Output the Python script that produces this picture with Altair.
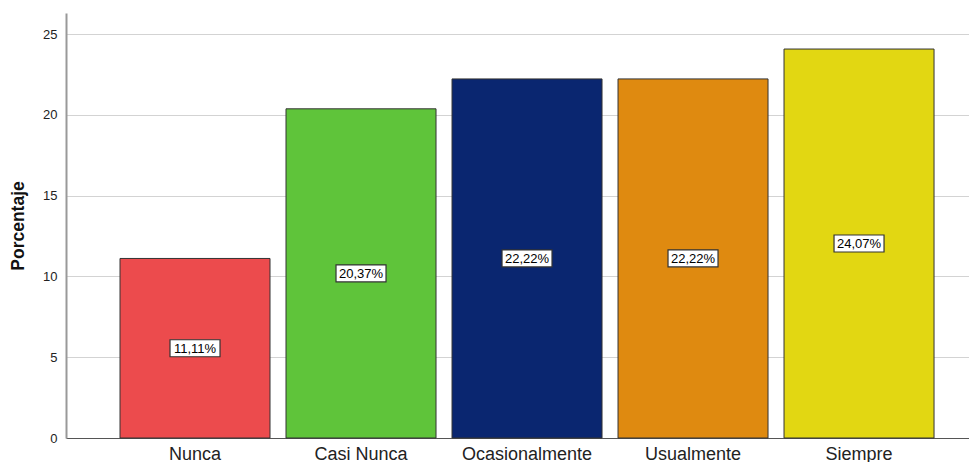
import altair as alt
import pandas as pd

categories = ["Nunca", "Casi Nunca", "Ocasionalmente", "Usualmente", "Siempre"]
values = [11.11, 20.37, 22.22, 22.22, 24.07]
labels = ["11,11%", "20,37%", "22,22%", "22,22%", "24,07%"]
colors = ["#ec4b4d", "#5fc43a", "#0a2670", "#df8a10", "#e2d712"]

df = pd.DataFrame({"cat": categories, "value": values, "label": labels})

FONT = "Liberation Sans"

x = alt.X("cat:N", sort=categories, title=None,
          scale=alt.Scale(paddingInner=0.0964, paddingOuter=0.268, align=0.607),
          axis=alt.Axis(labelAngle=0, labelFontSize=18, labelColor="#222222", labelFont=FONT,
                        ticks=False, labelPadding=7, domainColor="#555555", domainWidth=1))
y = alt.Y("value:Q", title="Porcentaje",
          scale=alt.Scale(domain=[0, 26.3], nice=False),
          axis=alt.Axis(values=[0, 5, 10, 15, 20, 25], ticks=False, labelPadding=9,
                        labelFontSize=13, labelColor="#222222", labelFont=FONT,
                        titleFont=FONT, titleFontSize=17.5, titleFontWeight="bold",
                        titleColor="#111111", titlePadding=15,
                        gridColor="#d3d3d3", gridWidth=1, domainColor="#999999", domainWidth=2))

bars = alt.Chart(df).mark_bar(stroke="#333333", strokeWidth=1).encode(
    x=x, y=y,
    color=alt.Color("cat:N", sort=categories, scale=alt.Scale(domain=categories, range=colors), legend=None),
)

box_shape = "M-1,-0.34 L1,-0.34 L1,0.34 L-1,0.34 Z"
boxes = alt.Chart(df).transform_calculate(mid="datum.value / 2").mark_point(
    shape=box_shape, size=50 * 50, filled=True, fill="white", stroke="#333333", strokeWidth=1.2, opacity=1
).encode(x=alt.X("cat:N", sort=categories), y=alt.Y("mid:Q"))

texts = alt.Chart(df).transform_calculate(mid="datum.value / 2").mark_text(
    fontSize=13, font=FONT, color="#000000", dy=0.5
).encode(x=alt.X("cat:N", sort=categories), y=alt.Y("mid:Q"), text="label:N")

chart = alt.layer(bars, boxes, texts).properties(
    width=903, height=425,
    autosize=alt.AutoSizeParams(type="none"),
    padding={"left": 58, "top": 5, "right": 0, "bottom": 24},
).configure_view(stroke=None).configure_axis(grid=True).configure_axisX(grid=False)

chart.save("out.html", embed_options={"renderer": "svg", "actions": False})
